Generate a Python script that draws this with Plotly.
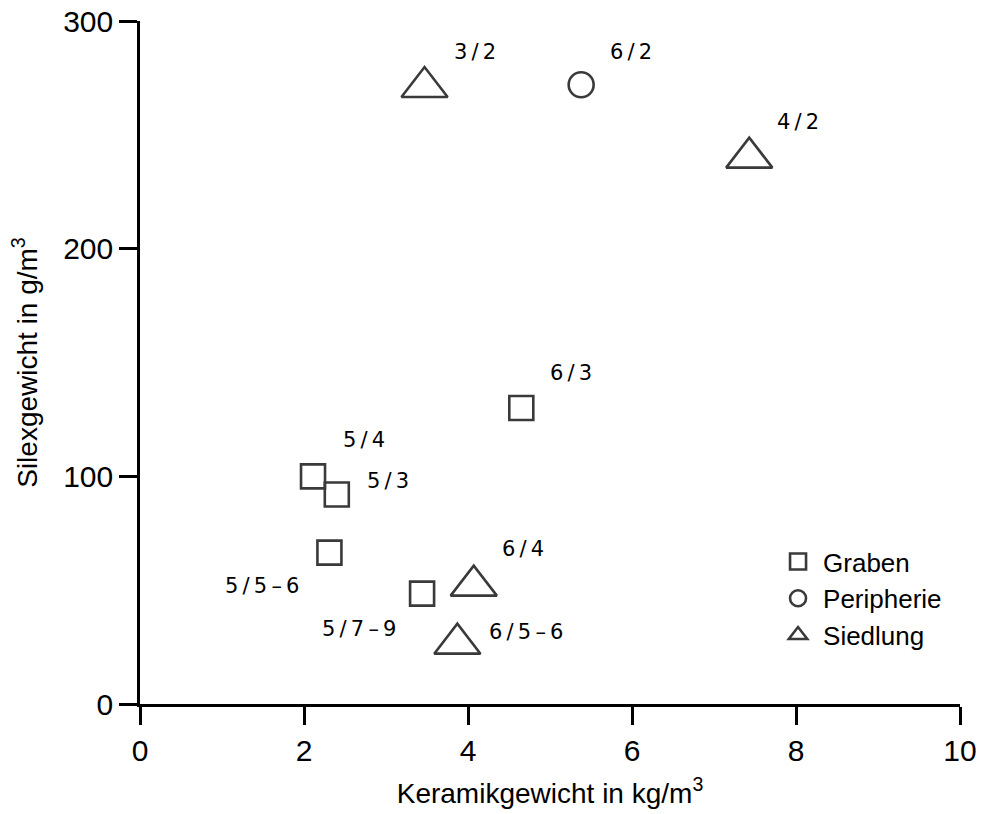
import plotly.graph_objects as go

# ---- data ----
graben_x = [4.65, 2.11, 2.40, 2.31, 3.44]
graben_y = [130, 100, 92, 66.5, 48.5]
graben_labels = ["6/3", "5/4", "5/3", "5/5–6", "5/7–9"]

peripherie_x = [5.38]
peripherie_y = [272]
peripherie_labels = ["6/2"]

siedlung_x = [3.47, 7.43, 4.07, 3.87]
siedlung_y = [271, 240, 52, 26.5]
siedlung_labels = ["3/2", "4/2", "6/4", "6/5–6"]

x_ticks = [0, 2, 4, 6, 8, 10]
y_ticks = [0, 100, 200, 300]

# label pixel offsets (style)
graben_off = [(50, 35), (51, 36), (51, 14), (-67, -33), (-63, -35)]
peripherie_off = [(50, 33)]
siedlung_off = [(50, 35), (49, 36), (49, 37), (69, 12)]

FONT = "Liberation Sans, Arial, Helvetica, sans-serif"
LABEL_FONT = "DejaVu Sans, Verdana, sans-serif"
MK = "#3a3a3a"
TS = "\u2009"  # thin space, mimics the spaced-out label lettering


def spaced(s):
    return s.replace("/", TS + "/" + TS).replace("–", TS + "–" + TS)


fig = go.Figure()
fig.add_trace(go.Scatter(
    x=graben_x, y=graben_y, mode="markers", name="Graben",
    marker=dict(symbol="square-open", size=24, color=MK, line=dict(width=2.6, color=MK)),
))
fig.add_trace(go.Scatter(
    x=peripherie_x, y=peripherie_y, mode="markers", name="Peripherie",
    marker=dict(symbol="circle-open", size=25, color=MK, line=dict(width=2.6, color=MK)),
))
fig.add_trace(go.Scatter(
    x=siedlung_x, y=siedlung_y, mode="markers", name="Siedlung",
    marker=dict(symbol="triangle-up-open", size=40, color=MK, line=dict(width=2.6, color=MK)),
))

annotations = []
for xs, ys, labs, offs in [
    (graben_x, graben_y, graben_labels, graben_off),
    (peripherie_x, peripherie_y, peripherie_labels, peripherie_off),
    (siedlung_x, siedlung_y, siedlung_labels, siedlung_off),
]:
    for xv, yv, lab, (dx, dy) in zip(xs, ys, labs, offs):
        annotations.append(dict(
            x=xv, y=yv, xref="x", yref="y", text=spaced(lab), showarrow=False,
            xanchor="center", yanchor="middle", xshift=dx, yshift=dy,
            font=dict(family=LABEL_FONT, size=21, color="black"),
        ))

axis_common = dict(
    showline=True, linewidth=2.6, linecolor="black",
    ticks="outside", ticklen=18, tickwidth=2.6, tickcolor="black",
    showgrid=False, zeroline=False, mirror=False, automargin=False,
    ticklabeloverflow="allow",
    tickfont=dict(family=FONT, size=30, color="black"),
)

fig.update_layout(
    width=981, height=814,
    margin=dict(l=140, r=21, t=21, b=110),
    paper_bgcolor="white", plot_bgcolor="white",
    showlegend=True,
    legend=dict(
        x=0.772, y=0.243, xanchor="left", yanchor="top",
        font=dict(family=FONT, size=26, color="black"),
        bgcolor="rgba(0,0,0,0)", itemwidth=40, tracegroupgap=0,
    ),
    xaxis=dict(
        range=[0, 10], tickvals=x_ticks, ticktext=[str(v) for v in x_ticks],
        title=dict(text="Keramikgewicht in kg/m<sup>3</sup>",
                   font=dict(family=FONT, size=28, color="black"), standoff=18),
        **axis_common,
    ),
    yaxis=dict(
        range=[0, 300], tickvals=y_ticks, ticktext=[str(v) for v in y_ticks],
        title=dict(text="Silexgewicht in g/m<sup>3</sup>",
                   font=dict(family=FONT, size=28, color="black"), standoff=18),
        **axis_common,
    ),
    annotations=annotations,
)

# remove the page's default body margin so the figure fills the window exactly
fig.write_html(
    "out.html",
    config={"displayModeBar": False},
    post_script="document.body.style.margin='0';document.body.style.overflow='hidden';",
)
